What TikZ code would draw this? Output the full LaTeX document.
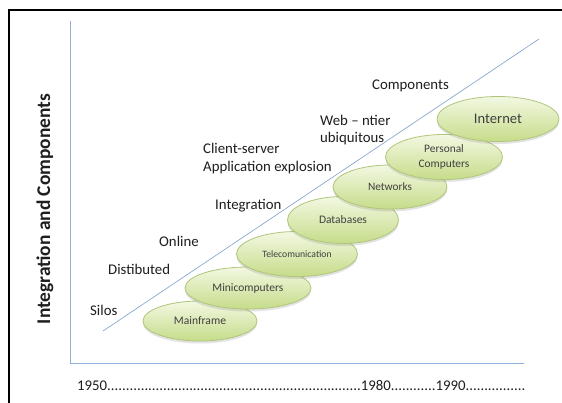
\documentclass[tikz,border=0pt]{standalone}
\usepackage{fontspec}
\setmainfont{Carlito}
\usetikzlibrary{shapes.geometric,shadows}
\definecolor{axisblue}{HTML}{8FB0D8}
\definecolor{diagblue}{HTML}{7C9FCB}
\definecolor{elltop}{HTML}{F3F8E2}
\definecolor{ellbot}{HTML}{C6DC8A}
\definecolor{ellline}{HTML}{AFC67A}
\definecolor{txt}{HTML}{1E1E1E}
\tikzset{
  stage/.style={shape=ellipse, draw=ellline, line width=0.8pt, top color=elltop, bottom color=ellbot,
    drop shadow={opacity=0.22, shadow xshift=0pt, shadow yshift=-2.5pt},
    inner sep=0pt, text=txt!85, align=center},
  era/.style={anchor=base west, inner sep=0pt, text=txt, font=\fontsize{14.8}{18}\selectfont},
  axisline/.style={draw=axisblue, line width=0.9pt},
}
\begin{document}
\begin{tikzpicture}[x=1pt,y=-1pt]
\useasboundingbox (0,0) rectangle (562,402);
\fill[white] (0,0) rectangle (562,402);
% frame
\draw[line width=1.8pt, line cap=rect] (9,402) -- (9,10) -- (562,10);
% axes
\coordinate (ytop) at (70,21);
\coordinate (orig) at (70,363);
\coordinate (xend) at (524,363);
\draw[axisline] (ytop) -- (orig) -- (xend);
% diagonal
\coordinate (dstart) at (103,331);
\coordinate (dend) at (539,39);
\draw[draw=diagblue, line width=0.6pt] (dstart) -- (dend);
% y label
\node[rotate=90, inner sep=0pt, text=txt, font=\bfseries\fontsize{19.4}{22}\selectfont] (ylab) at (45,209) {Integration and Components};
% ellipses
\node[stage, minimum width=114pt, minimum height=40pt, font=\fontsize{11.6}{14}\selectfont] (mainframe) at (200,321) {Mainframe};
\node[stage, minimum width=126pt, minimum height=42pt, font=\fontsize{11.5}{14}\selectfont] (mini) at (248,288) {Minicomputers};
\node[stage, minimum width=121pt, minimum height=45pt, font=\fontsize{9.7}{12}\selectfont] (telecom) at (297,254) {Telecomunication};
\node[stage, minimum width=111pt, minimum height=47pt, font=\fontsize{11.5}{14}\selectfont] (db) at (343,220) {Databases};
\node[stage, minimum width=114pt, minimum height=44pt, font=\fontsize{11.3}{14}\selectfont] (net) at (390,187) {Networks};
\node[stage, minimum width=117pt, minimum height=45pt, font=\fontsize{11.4}{14.3}\selectfont] (pc) at (444,157) {Personal\\Computers};
\node[stage, minimum width=122pt, minimum height=45pt, font=\fontsize{14.6}{17}\selectfont] (internet) at (498,119) {Internet};
% era labels
\node[era] (silos) at (90,315.5) {Silos};
\node[era] (dist) at (108,274.5) {Distibuted};
\node[era] (online) at (159,246.5) {Online};
\node[era] (integ) at (215,209.5) {Integration};
\node[era] (client) at (203,153.5) {Client-server};
\node[era] (appl) at (203,171.5) {Application explosion};
\node[era] (web) at (320,125.5) {Web – ntier};
\node[era] (ubiq) at (320,142) {ubiquitous};
\node[era] (comp) at (372,89.5) {Components};
% years
\node[era] (years) at (77,390) {1950....................................................................1980............1990................};
\end{tikzpicture}
\end{document}
